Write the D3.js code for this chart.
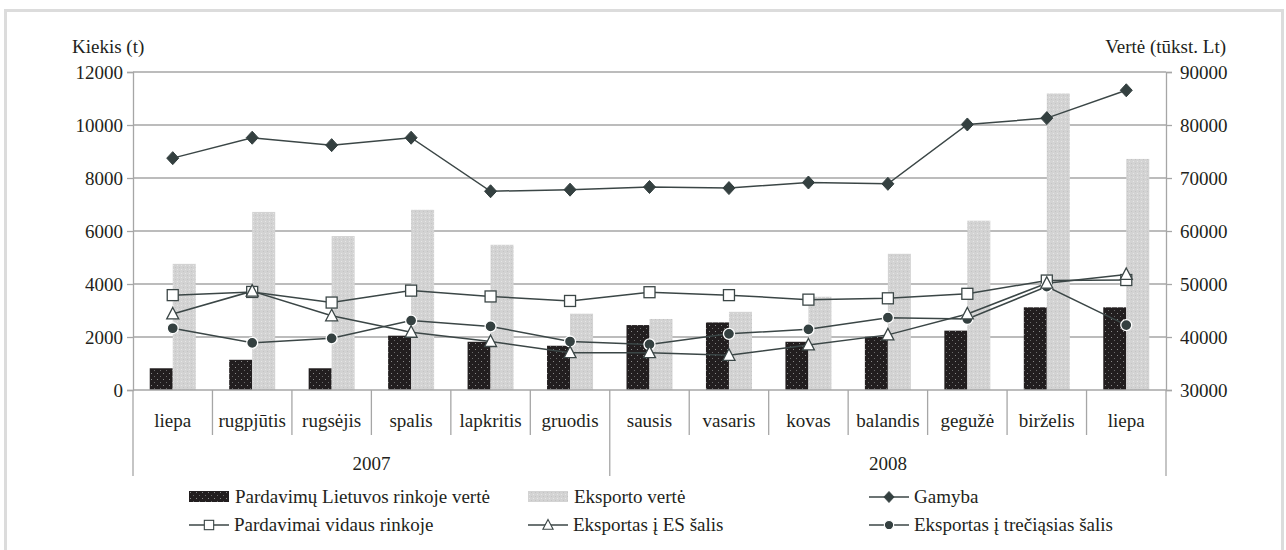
<!DOCTYPE html>
<html>
<head>
<meta charset="utf-8">
<script src="https://cdn.jsdelivr.net/npm/d3@7"></script>
<style>
  body { margin: 0; background: #fff; }
  svg text { fill: #231f20; }
</style>
</head>
<body>
<div id="chart"></div>
<script>
// Mėnesiai ir metai
const months = ['liepa', 'rugpjūtis', 'rugsėjis', 'spalis', 'lapkritis', 'gruodis',
  'sausis', 'vasaris', 'kovas', 'balandis', 'gegužė', 'birželis', 'liepa']
const years = [{ label: '2007', from: 0, to: 6 }, { label: '2008', from: 6, to: 13 }]

// Vertė (tūkst. Lt) – dešinė ašis
const pardavimuLtVerte = [34100, 35700, 34100, 40250, 39100, 38350, 42250, 42750, 39100, 40050, 41200, 45600, 45600]
const eksportoVerte = [53800, 63600, 59050, 64000, 57400, 44400, 43400, 44750, 47600, 55700, 61950, 85950, 73600]

// Kiekis (t) – kairė ašis
const gamyba = [8750, 9520, 9240, 9520, 7500, 7560, 7660, 7620, 7830, 7780, 10020, 10260, 11310]
const vidausRinka = [3580, 3700, 3300, 3750, 3530, 3360, 3690, 3580, 3410, 3460, 3630, 4130, 4150]
const eksportasES = [2870, 3730, 2800, 2180, 1830, 1410, 1410, 1310, 1700, 2080, 2870, 4030, 4360]
const eksportasTreciosios = [2330, 1780, 1950, 2620, 2400, 1830, 1720, 2120, 2290, 2730, 2680, 3900, 2450]

const leftTicks = [0, 2000, 4000, 6000, 8000, 10000, 12000]
const rightTicks = [30000, 40000, 50000, 60000, 70000, 80000, 90000]

const width = 1286
const height = 550
const margin = { top: 72, right: 120, bottom: 160, left: 133 }
const plotBottom = height - margin.bottom
const plotRight = width - margin.right
const fontFamily = '"Liberation Serif", "DejaVu Serif", "Times New Roman", Times, serif'

const colors = {
  grid: '#a6a6a6',
  line: '#3b4646',
  marker: '#344040',
  dark: '#221e1f',
  light: '#d3d3d3',
  frame: '#dcdcdc'
}

const svg = d3.select('#chart')
  .append('svg')
  .attr('width', width)
  .attr('height', height)
  .style('font-family', fontFamily)

// Raštai stulpeliams
const defs = svg.append('defs')
const darkPat = defs.append('pattern')
  .attr('id', 'dark-dots')
  .attr('width', 6).attr('height', 6)
  .attr('patternUnits', 'userSpaceOnUse')
darkPat.append('rect').attr('width', 6).attr('height', 6).attr('fill', colors.dark)
darkPat.append('rect').attr('x', 1).attr('y', 1).attr('width', 1).attr('height', 1).attr('fill', '#8a8a8a')
darkPat.append('rect').attr('x', 4).attr('y', 4).attr('width', 1).attr('height', 1).attr('fill', '#6a6a6a')

const lightPat = defs.append('pattern')
  .attr('id', 'light-dots')
  .attr('width', 4).attr('height', 4)
  .attr('patternUnits', 'userSpaceOnUse')
lightPat.append('rect').attr('width', 4).attr('height', 4).attr('fill', colors.light)
lightPat.append('rect').attr('x', 1).attr('y', 1).attr('width', 1).attr('height', 1).attr('fill', '#e6e6e6')
lightPat.append('rect').attr('x', 3).attr('y', 3).attr('width', 1).attr('height', 1).attr('fill', '#c4c4c4')

// Rėmelis
svg.append('rect')
  .attr('x', 5.5).attr('y', 10.5)
  .attr('width', 1277).attr('height', 600)
  .attr('fill', 'none')
  .attr('stroke', colors.frame)
  .attr('stroke-width', 3)

// Skalės
const x = d3.scaleBand()
  .domain(d3.range(months.length))
  .range([margin.left, plotRight])
  .padding(0)

const xInner = d3.scaleBand()
  .domain(['lt', 'eks'])
  .range([-23, 23])

const yLeft = d3.scaleLinear()
  .domain([0, 12000])
  .range([plotBottom, margin.top])

const yRight = d3.scaleLinear()
  .domain([30000, 90000])
  .range([plotBottom, margin.top])

const cx = i => x(i) + x.bandwidth() / 2

// Tinklelis
svg.append('g')
  .selectAll('line')
  .data(leftTicks.slice(1))
  .enter()
  .append('line')
  .attr('x1', margin.left)
  .attr('x2', plotRight)
  .attr('y1', d => yLeft(d))
  .attr('y2', d => yLeft(d))
  .attr('stroke', colors.grid)
  .attr('stroke-width', 1.3)

// Kairė ašis
const leftAxis = svg.append('g')
  .attr('transform', `translate(${margin.left},0)`)
  .call(d3.axisLeft(yLeft).tickValues(leftTicks).tickSize(6).tickPadding(4).tickFormat(d3.format('d')))
leftAxis.attr('font-family', null).attr('font-size', null)
leftAxis.select('.domain').attr('stroke', colors.grid).attr('stroke-width', 1.3)
leftAxis.selectAll('line').attr('stroke', colors.grid).attr('stroke-width', 1.3)
leftAxis.selectAll('text').style('font-family', fontFamily).style('font-size', '19px')

// Dešinė ašis
const rightAxis = svg.append('g')
  .attr('transform', `translate(${plotRight},0)`)
  .call(d3.axisRight(yRight).tickValues(rightTicks).tickSize(6).tickPadding(8).tickFormat(d3.format('d')))
rightAxis.attr('font-family', null).attr('font-size', null)
rightAxis.select('.domain').attr('stroke', colors.grid).attr('stroke-width', 1.3)
rightAxis.selectAll('line').attr('stroke', colors.grid).attr('stroke-width', 1.3)
rightAxis.selectAll('text').style('font-family', fontFamily).style('font-size', '19px')

// Ašių pavadinimai
svg.append('text')
  .attr('x', 72).attr('y', 53)
  .style('font-size', '19px')
  .text('Kiekis (t)')

svg.append('text')
  .attr('x', 1226).attr('y', 53)
  .attr('text-anchor', 'end')
  .style('font-size', '19px')
  .text('Vertė (tūkst. Lt)')

// Stulpeliai
svg.append('g')
  .selectAll('rect')
  .data(pardavimuLtVerte)
  .enter()
  .append('rect')
  .attr('x', (d, i) => cx(i) + xInner('lt'))
  .attr('width', xInner.bandwidth())
  .attr('y', d => yRight(d))
  .attr('height', d => plotBottom - yRight(d))
  .attr('fill', 'url(#dark-dots)')

svg.append('g')
  .selectAll('rect')
  .data(eksportoVerte)
  .enter()
  .append('rect')
  .attr('x', (d, i) => cx(i) + xInner('eks'))
  .attr('width', xInner.bandwidth())
  .attr('y', d => yRight(d))
  .attr('height', d => plotBottom - yRight(d))
  .attr('fill', 'url(#light-dots)')

// Kategorijų ašis
svg.append('line')
  .attr('x1', margin.left).attr('x2', plotRight)
  .attr('y1', plotBottom).attr('y2', plotBottom)
  .attr('stroke', colors.grid)
  .attr('stroke-width', 1.3)

const yearEdges = new Set(years.flatMap(y => [y.from, y.to]))
svg.append('g')
  .selectAll('line')
  .data(d3.range(months.length + 1))
  .enter()
  .append('line')
  .attr('x1', i => margin.left + i * x.step())
  .attr('x2', i => margin.left + i * x.step())
  .attr('y1', plotBottom)
  .attr('y2', i => yearEdges.has(i) ? 476 : 435)
  .attr('stroke', colors.grid)
  .attr('stroke-width', 1.3)

svg.append('g')
  .selectAll('text')
  .data(months)
  .enter()
  .append('text')
  .attr('x', (d, i) => cx(i))
  .attr('y', 427)
  .attr('text-anchor', 'middle')
  .style('font-size', '19px')
  .text(d => d)

svg.append('g')
  .selectAll('text')
  .data(years)
  .enter()
  .append('text')
  .attr('x', d => (margin.left + d.from * x.step() + margin.left + d.to * x.step()) / 2)
  .attr('y', 470)
  .attr('text-anchor', 'middle')
  .style('font-size', '19px')
  .text(d => d.label)

// Linijos
const series = [
  { name: 'Pardavimai vidaus rinkoje', values: vidausRinka, marker: 'square' },
  { name: 'Eksportas į trečiąsias šalis', values: eksportasTreciosios, marker: 'circle' },
  { name: 'Eksportas į ES šalis', values: eksportasES, marker: 'triangle' },
  { name: 'Gamyba', values: gamyba, marker: 'diamond' }
]

function drawMarker(g, type) {
  if (type === 'diamond') {
    g.append('path').attr('d', 'M0,-6.5L6,0L0,6.5L-6,0Z')
      .attr('fill', colors.marker).attr('stroke', colors.marker).attr('stroke-width', 1)
  } else if (type === 'square') {
    g.append('rect').attr('x', -5.5).attr('y', -5.5).attr('width', 11).attr('height', 11)
      .attr('fill', '#fff').attr('stroke', colors.line).attr('stroke-width', 1.3)
  } else if (type === 'triangle') {
    g.append('path').attr('d', 'M0,-6.5L6,5L-6,5Z')
      .attr('fill', '#fff').attr('stroke', colors.line).attr('stroke-width', 1.3)
  } else {
    g.append('circle').attr('r', 5.5)
      .attr('fill', colors.marker).attr('stroke', '#fff').attr('stroke-width', 1.3)
  }
}

const line = d3.line()
  .x((d, i) => cx(i))
  .y(d => yLeft(d))

series.forEach(s => {
  svg.append('path')
    .datum(s.values)
    .attr('fill', 'none')
    .attr('stroke', colors.line)
    .attr('stroke-width', 1.5)
    .attr('d', line)
})

series.forEach(s => {
  svg.append('g')
    .selectAll('g')
    .data(s.values)
    .enter()
    .append('g')
    .attr('transform', (d, i) => `translate(${cx(i)},${yLeft(d)})`)
    .each(function () { drawMarker(d3.select(this), s.marker) })
})

// Legenda
const legend = [
  { name: 'Pardavimų Lietuvos rinkoje vertė', kind: 'bar', fill: 'url(#dark-dots)', x: 189, y: 497 },
  { name: 'Eksporto vertė', kind: 'bar', fill: 'url(#light-dots)', x: 528, y: 497 },
  { name: 'Gamyba', kind: 'diamond', x: 869, y: 497 },
  { name: 'Pardavimai vidaus rinkoje', kind: 'square', x: 189, y: 525 },
  { name: 'Eksportas į ES šalis', kind: 'triangle', x: 528, y: 525 },
  { name: 'Eksportas į trečiąsias šalis', kind: 'circle', x: 869, y: 525 }
]

legend.forEach(l => {
  const g = svg.append('g').attr('transform', `translate(${l.x},${l.y})`)
  if (l.kind === 'bar') {
    g.append('rect').attr('x', 0).attr('y', -6).attr('width', 40).attr('height', 11).attr('fill', l.fill)
  } else {
    g.append('line').attr('x1', 0).attr('x2', 40).attr('y1', 0).attr('y2', 0)
      .attr('stroke', colors.line).attr('stroke-width', 1.5)
    const m = g.append('g').attr('transform', 'translate(20,0) scale(0.85)')
    drawMarker(m, l.kind)
  }
  g.append('text')
    .attr('x', l.kind === 'bar' ? 46 : 45)
    .attr('y', 0)
    .attr('dy', '0.33em')
    .style('font-size', '19px')
    .text(l.name)
})
</script>
</body>
</html>
